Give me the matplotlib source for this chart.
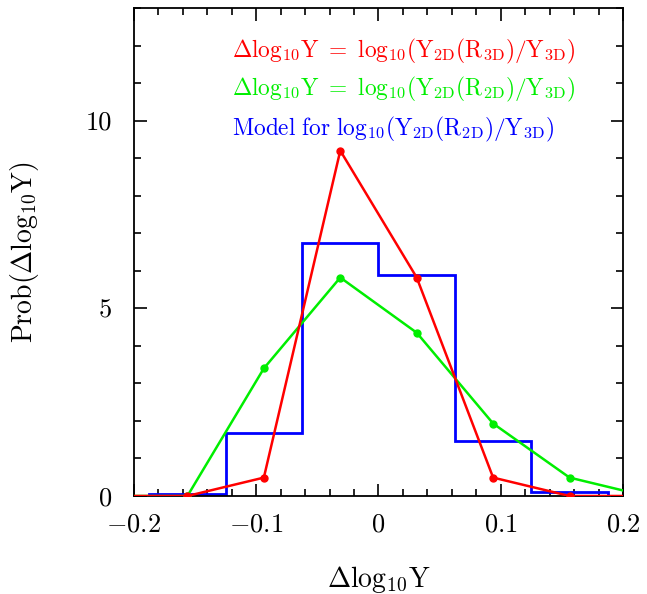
import matplotlib
matplotlib.use("Agg")
import matplotlib.pyplot as plt
from matplotlib.ticker import MultipleLocator, FuncFormatter

plt.rcParams["font.family"] = "cmr10"
plt.rcParams["mathtext.fontset"] = "cm"
plt.rcParams["axes.formatter.use_mathtext"] = True

# centros de bin (anchura 0.0625)
x_pts = [-0.21875, -0.15625, -0.09375, -0.03125, 0.03125, 0.09375, 0.15625, 0.21875]
red_y = [0.0, 0.0, 0.49, 9.2, 5.82, 0.49, 0.0, 0.0]
green_y = [0.0, 0.0, 3.4, 5.82, 4.35, 1.93, 0.49, 0.0]

# histograma del modelo
blue_edges = [-0.25, -0.1875, -0.125, -0.0625, 0.0, 0.0625, 0.125, 0.1875, 0.25]
blue_y = [0.0, 0.06, 1.69, 6.75, 5.9, 1.47, 0.1, 0.0]

fig = plt.figure(figsize=(6.47, 5.94), dpi=100)
ax = fig.add_axes([0.207, 0.165, 0.756, 0.8215])

ax.stairs(blue_y, blue_edges, color="#0000ff", lw=2, zorder=2)
ax.plot(x_pts, green_y, color="#00ee00", lw=1.8, marker="o", ms=5, zorder=3)
ax.plot(x_pts, red_y, color="#ff0000", lw=1.8, marker="o", ms=5, zorder=4)

ax.set_xlim(-0.2, 0.2)
ax.set_ylim(0, 13)
ax.xaxis.set_major_locator(MultipleLocator(0.1))
ax.xaxis.set_minor_locator(MultipleLocator(0.02))
ax.yaxis.set_major_locator(MultipleLocator(5))
ax.yaxis.set_minor_locator(MultipleLocator(1))


def fmt(v, pos):
    if abs(v) < 1e-9:
        return "0"
    return "$%g$" % v


ax.xaxis.set_major_formatter(FuncFormatter(fmt))
ax.yaxis.set_major_formatter(FuncFormatter(lambda v, p: "%d" % v))
ax.tick_params(which="both", direction="in", top=True, right=True, width=1.2, labelsize=19)
ax.tick_params(axis="x", pad=12)
ax.tick_params(axis="y", pad=16)
ax.tick_params(which="major", length=9)
ax.tick_params(which="minor", length=5)
for sp in ax.spines.values():
    sp.set_linewidth(1.3)

ax.set_xlabel(r"$\Delta\mathrm{log}_{10}\mathrm{Y}$", fontsize=20, labelpad=20)
ax.set_ylabel(r"$\mathrm{Prob}(\Delta\mathrm{log}_{10}\mathrm{Y})$", fontsize=20, labelpad=32)

kw = dict(transform=ax.transAxes, fontsize=16.8, ha="left", va="center")
ax.text(0.2, 0.912,
        r"$\Delta\mathrm{log}_{10}\mathrm{Y\ =\ log}_{10}\mathrm{(Y}_{\mathrm{2D}}\mathrm{(R}_{\mathrm{3D}}\mathrm{)/Y}_{\mathrm{3D}}\mathrm{)}$",
        color="#ff0000", **kw)
ax.text(0.2, 0.834,
        r"$\Delta\mathrm{log}_{10}\mathrm{Y\ =\ log}_{10}\mathrm{(Y}_{\mathrm{2D}}\mathrm{(R}_{\mathrm{2D}}\mathrm{)/Y}_{\mathrm{3D}}\mathrm{)}$",
        color="#00ee00", **kw)
ax.text(0.2, 0.752,
        r"$\mathrm{Model\ for\ log}_{10}\mathrm{(Y}_{\mathrm{2D}}\mathrm{(R}_{\mathrm{2D}}\mathrm{)/Y}_{\mathrm{3D}}\mathrm{)}$",
        color="#0000ff", **kw)

fig.savefig("out.png", dpi=100)
